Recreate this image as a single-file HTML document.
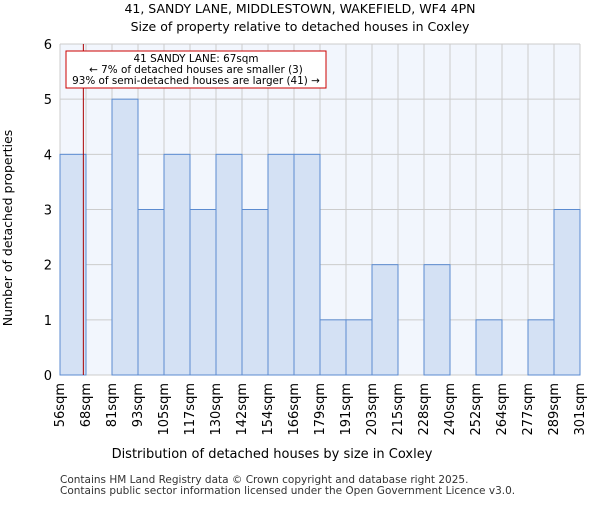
<!DOCTYPE html><html><head><meta charset="utf-8"><style>body{margin:0;background:#fff}svg{font-family:"DejaVu Sans","Liberation Sans",sans-serif}</style></head><body>
<svg id="c" width="600" height="500"></svg>
<script>
const categories=["56sqm","68sqm","81sqm","93sqm","105sqm","117sqm","130sqm","142sqm","154sqm","166sqm","179sqm","191sqm","203sqm","215sqm","228sqm","240sqm","252sqm","264sqm","277sqm","289sqm","301sqm"];
const counts=[4,0,5,3,4,3,4,3,4,4,1,1,2,0,2,0,1,0,1,3];
const yTicks=[0,1,2,3,4,5,6];
const subjectSize=67, binStart=56, binWidthSqm=12.25;
const L=60,R=580,T=44,B=375,ns="http://www.w3.org/2000/svg",svg=document.getElementById('c');
const bw=(R-L)/counts.length;
const x=i=>L+i*bw, y=v=>B-(v/6)*(B-T);
function el(t,a,txt){const e=document.createElementNS(ns,t);for(const k in a)e.setAttribute(k,a[k]);if(txt!=null)e.textContent=txt;svg.appendChild(e);return e;}
let e=el('rect',{x:L,y:T,width:R-L,height:B-T,fill:'#f2f6fd'});

for(let i=0;i<=counts.length;i++){e=el('line',{x1:x(i),x2:x(i),y1:T,y2:B,stroke:'#cccccc'});}
yTicks.forEach(v=>{e=el('line',{x1:L,x2:R,y1:y(v),y2:y(v),stroke:'#cccccc'});
e=el('text',{x:L-8,y:y(v)+5,'text-anchor':'end','font-size':13},v);});
counts.forEach((c,i)=>{if(!c)return;e=el('rect',{x:x(i),y:y(c),width:bw,height:B-y(c),fill:'#d4e1f4',stroke:'#5b8bd0','stroke-width':1});});
categories.forEach((c,i)=>{const xx=x(i)+4;e=el('text',{x:xx,y:B+8,'text-anchor':'end','font-size':13,transform:`rotate(-90 ${xx} ${B+8})`},c);});
const sx=L+(subjectSize-binStart)/binWidthSqm*bw;
e=el('line',{x1:sx,x2:sx,y1:T,y2:B,stroke:'#aa0000','stroke-width':1});
e=el('rect',{x:66,y:51,width:260,height:37,fill:'#fff',stroke:'#cc0000'});
[["41 SANDY LANE: 67sqm",62],["← 7% of detached houses are smaller (3)",73],["93% of semi-detached houses are larger (41) →",84]].forEach(a=>{e=el('text',{x:196,y:a[1],'text-anchor':'middle','font-size':10.4},a[0]);});
e=el('text',{x:300,y:13,'text-anchor':'middle','font-size':12.5},"41, SANDY LANE, MIDDLESTOWN, WAKEFIELD, WF4 4PN");
e=el('text',{x:300,y:31,'text-anchor':'middle','font-size':12.5},"Size of property relative to detached houses in Coxley");
e=el('text',{x:272,y:458,'text-anchor':'middle','font-size':13},"Distribution of detached houses by size in Coxley");
e=el('text',{x:12,y:228,'text-anchor':'middle','font-size':12.5,transform:'rotate(-90 12 228)'},"Number of detached properties");
e=el('text',{x:60,y:483,'font-size':10.5,fill:'#333'},"Contains HM Land Registry data © Crown copyright and database right 2025.");
e=el('text',{x:60,y:494,'font-size':10.5,fill:'#333'},"Contains public sector information licensed under the Open Government Licence v3.0.");
</script></body></html>
